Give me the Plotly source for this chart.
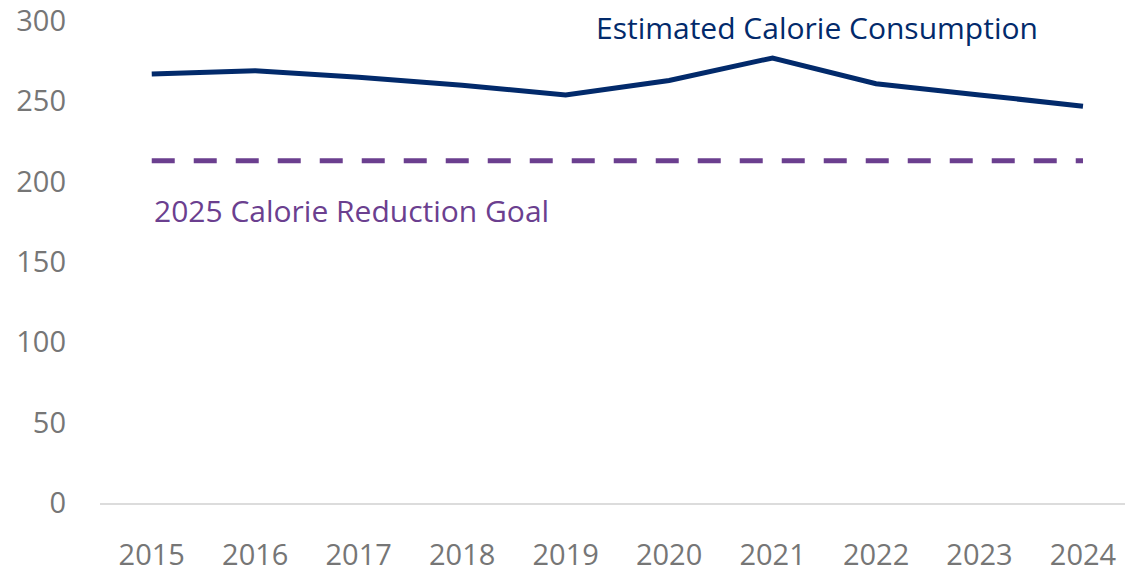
import plotly.graph_objects as go

# Annual estimated calorie consumption and the fixed reduction goal
years = [2015, 2016, 2017, 2018, 2019, 2020, 2021, 2022, 2023, 2024]
consumption = [267, 269, 265, 260, 254, 263, 277, 261, 254, 247]
goal_value = 213
goal = [goal_value] * len(years)

y_ticks = [0, 50, 100, 150, 200, 250, 300]

NAVY = "#022a6b"
PURPLE = "#6b3f8f"
GREY = "#767676"
FONT = "Open Sans"

fig = go.Figure()

fig.add_trace(go.Scatter(
    x=years, y=goal, mode="lines",
    line=dict(color=PURPLE, width=5, dash="23px,19px"),
    hoverinfo="skip", showlegend=False,
))

fig.add_trace(go.Scatter(
    x=years, y=consumption, mode="lines",
    line=dict(color=NAVY, width=5),
    showlegend=False,
))

fig.add_annotation(
    x=2023.585, y=296, xref="x", yref="y",
    text="Estimated Calorie Consumption", showarrow=False,
    xanchor="right", yanchor="middle",
    font=dict(family=FONT, size=30, color=NAVY),
)
fig.add_annotation(
    x=2015, y=182, xref="x", yref="y",
    text="2025 Calorie Reduction Goal", showarrow=False,
    xanchor="left", yanchor="middle",
    font=dict(family=FONT, size=30, color=PURPLE),
)

fig.update_layout(
    width=1125, height=573,
    margin=dict(l=100, r=0, t=21, b=63),
    paper_bgcolor="white", plot_bgcolor="white",
    font=dict(family=FONT, color=GREY),
    xaxis=dict(
        range=[2014.5, 2024.406],
        tickvals=years, ticktext=[str(y) for y in years],
        showgrid=False, zeroline=False,
        showline=True, linecolor="#dcdcdc", linewidth=2,
        ticks="", ticklabelstandoff=25,
        tickfont=dict(family=FONT, size=29, color=GREY),
    ),
    yaxis=dict(
        range=[0, 300], tickvals=y_ticks,
        showgrid=False, zeroline=False, showline=False,
        ticks="", ticklabelstandoff=33,
        tickfont=dict(family=FONT, size=29, color=GREY),
    ),
)

fig.write_html("out.html")
